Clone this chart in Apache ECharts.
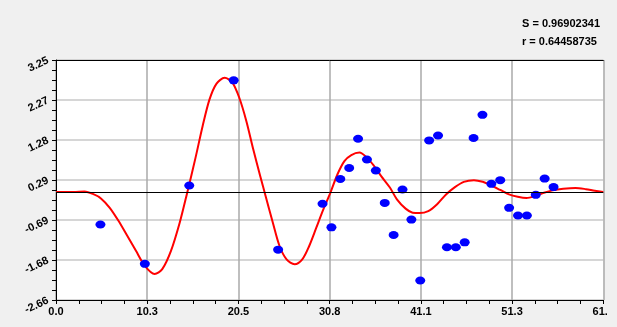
<!DOCTYPE html>
<html>
<head>
<meta charset="utf-8">
<script src="https://cdn.jsdelivr.net/npm/echarts@6/dist/echarts.min.js"></script>
<style>
html,body{margin:0;padding:0;background:#f0f0f0;}
#clip{width:607px;height:327px;overflow:hidden;}
#chart{width:617px;height:327px;}
</style>
</head>
<body>
<div id="clip"><div id="chart"></div></div>
<script>
// Scatter observations
const pointX = [5, 10, 15, 20, 25, 30, 31, 32, 33, 34, 35, 36, 37, 38, 39, 40, 41, 42, 43, 44, 45, 46, 47, 48, 49, 50, 51, 52, 53, 54, 55, 56];
const pointY = [-0.80, -1.77, 0.16, 2.75, -1.42, -0.29, -0.87, 0.32, 0.59, 1.31, 0.80, 0.53, -0.27, -1.06, 0.06, -0.68, -2.18, 1.27, 1.39, -1.36, -1.36, -1.24, 1.33, 1.90, 0.20, 0.29, -0.39, -0.58, -0.58, -0.07, 0.33, 0.12];
// Fitted curve
const curveX = [0, 2, 3.2, 4.27, 5.06, 6.05, 7.03, 8.02, 9.0, 10.0, 11.1, 11.96, 12.94, 13.93, 14.72, 15.7, 16.5, 17.28, 18.07, 18.98, 19.84, 20.63, 21.42, 22.2, 22.99, 23.59, 24.4, 25.16, 25.95, 26.86, 27.72, 28.5, 29.3, 30.09, 30.88, 31.67, 32.46, 33.24, 34.15, 35.02, 35.8, 36.6, 37.58, 38.37, 39.35, 40.14, 40.93, 41.9, 42.9, 43.9, 44.9, 45.9, 47.04, 48.02, 49.0, 50.0, 50.98, 51.97, 52.95, 53.94, 54.92, 55.9, 57.09, 58.47, 59.65, 60.64, 61.6];
const curveY = [0, 0.0, 0.01, -0.06, -0.16, -0.39, -0.71, -1.08, -1.45, -1.82, -2.02, -1.90, -1.45, -0.75, -0.06, 0.84, 1.62, 2.28, 2.67, 2.81, 2.70, 2.32, 1.75, 1.05, 0.39, -0.10, -0.75, -1.33, -1.66, -1.78, -1.66, -1.33, -0.88, -0.43, -0.02, 0.43, 0.76, 0.91, 0.97, 0.84, 0.64, 0.39, 0.11, -0.18, -0.41, -0.51, -0.52, -0.47, -0.30, -0.06, 0.12, 0.25, 0.29, 0.25, 0.16, 0.05, -0.06, -0.12, -0.15, -0.10, -0.02, 0.04, 0.08, 0.10, 0.07, 0.03, 0.0];
// Axis tick labels
const xTickLabels = ['0.0', '10.3', '20.5', '30.8', '41.1', '51.3', '61.6'];
const yTickLabels = ['-2.66', '-1.68', '-0.69', '0.29', '1.28', '2.27', '3.25'];
const statLines = ['S = 0.96902341', 'r = 0.64458735'];

const X_MIN = 0, X_MAX = 61.6, X_INT = 10.2666667;
const Y_MIN = -2.66, Y_MAX = 3.25, Y_INT = 0.985;

const chart = echarts.init(document.getElementById('chart'), null, {renderer: 'canvas'});
const labelFont = {fontFamily: 'Liberation Sans, Arial, sans-serif', fontWeight: 'bold', fontSize: 11, color: '#000'};

chart.setOption({
  animation: false,
  backgroundColor: '#f0f0f0',
  graphic: [{
    type: 'text', right: 17, top: 15,
    style: {text: statLines.join('\n'), font: 'bold 11px "Liberation Sans", Arial, sans-serif', fill: '#000', align: 'right', lineHeight: 18}
  }],
  grid: {left: 56, right: 10, top: 60, bottom: 27, show: true, backgroundColor: '#ffffff', borderWidth: 0},
  xAxis: [{
    type: 'value', min: X_MIN, max: X_MAX, interval: X_INT,
    axisLine: {show: true, onZero: false, lineStyle: {color: '#000', width: 1}},
    axisTick: {show: true, length: 4, lineStyle: {color: '#000'}},
    minorTick: {show: true, splitNumber: 4, length: 4, lineStyle: {color: '#000'}},
    splitLine: {show: true, lineStyle: {color: '#aaaaaa', width: 1.5}},
    axisLabel: Object.assign({margin: 6, showMaxLabel: true, showMinLabel: true,
      formatter: v => xTickLabels[Math.round((v - X_MIN) / X_INT)]}, labelFont)
  }, {
    type: 'value', min: X_MIN, max: X_MAX, position: 'top',
    axisLine: {show: true, onZero: false, lineStyle: {color: '#000', width: 1}},
    axisTick: {show: false}, axisLabel: {show: false}, splitLine: {show: false}
  }],
  yAxis: {
    type: 'value', min: Y_MIN, max: Y_MAX, interval: Y_INT,
    axisLine: {show: true, onZero: false, lineStyle: {color: '#000', width: 1}},
    axisTick: {show: true, length: 4, lineStyle: {color: '#000'}},
    minorTick: {show: true, splitNumber: 4, length: 4, lineStyle: {color: '#000'}},
    splitLine: {show: true, lineStyle: {color: '#c8c8c8', width: 1.5}},
    axisLabel: Object.assign({margin: 8, rotate: 25, showMaxLabel: true, showMinLabel: true,
      formatter: v => yTickLabels[Math.round((v - Y_MIN) / Y_INT)]}, labelFont)
  },
  series: [{
    type: 'line', name: 'fit', xAxisIndex: 0,
    data: curveX.map((x, i) => [x, curveY[i]]),
    smooth: 0.3, showSymbol: false, symbol: 'none',
    lineStyle: {color: '#ff0000', width: 2, join: 'round'},
    markLine: {silent: true, symbol: 'none', label: {show: false},
      lineStyle: {color: '#000', width: 1, type: 'solid'}, data: [{yAxis: 0}]},
    z: 3
  }, {
    type: 'scatter', name: 'data', xAxisIndex: 0,
    data: pointX.map((x, i) => [x, pointY[i]]),
    symbol: 'circle', symbolSize: [10, 8],
    itemStyle: {color: '#0000ff', opacity: 1},
    z: 4
  }]
});
</script>
</body>
</html>
